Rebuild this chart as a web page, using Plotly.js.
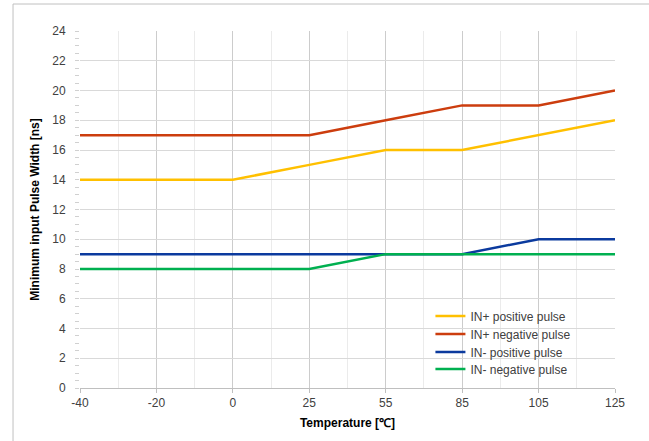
<!DOCTYPE html>
<html>
<head>
<meta charset="utf-8">
<script src="https://cdn.plot.ly/plotly-3.0.1.min.js"></script>
<style>html,body{margin:0;padding:0;background:#fff;}#chart{width:649px;height:441px;}</style>
</head>
<body>
<div id="chart"></div>
<script>
const categories = ["-40", "-20", "0", "25", "55", "85", "105", "125"];
const seriesNames = ["IN+ positive pulse", "IN+ negative pulse", "IN- positive pulse", "IN- negative pulse"];
const inPlusPositive = [14, 14, 14, 15, 16, 16, 17, 18];
const inPlusNegative = [17, 17, 17, 17, 18, 19, 19, 20];
const inMinusPositive = [9, 9, 9, 9, 9, 9, 10, 10];
const inMinusNegative = [8, 8, 8, 8, 9, 9, 9, 9];
const seriesColors = ["#FFC000", "#CC3D0E", "#0B3A9E", "#00B050"];
const yTicks = [0, 2, 4, 6, 8, 10, 12, 14, 16, 18, 20, 22, 24];

const xIdx = categories.map((c, i) => i);
const allSeries = [inPlusPositive, inPlusNegative, inMinusPositive, inMinusNegative];
const legendIds = ['legend', 'legend2', 'legend3', 'legend4'];
const traces = allSeries.map((vals, k) => ({
  x: xIdx, y: vals, name: seriesNames[k], type: 'scatter', mode: 'lines',
  line: {color: seriesColors[k], width: 2.5}, legend: legendIds[k]
}));

const font = {family: 'Liberation Sans, Arial, sans-serif', size: 12, color: '#404040'};
const legendY = [0.2017, 0.1513, 0.1008, 0.0532];
const mkLegend = (y) => ({x: 0.655, y: y, xanchor: 'left', yanchor: 'middle', bgcolor: 'rgba(255,255,255,0)', borderwidth: 0, font: {family: font.family, size: 12, color: '#404040'}});

const layout = {
  width: 649, height: 441,
  margin: {l: 80, r: 34, t: 31, b: 53},
  paper_bgcolor: '#fff', plot_bgcolor: '#fff',
  font: font,
  showlegend: true,
  legend: mkLegend(legendY[0]),
  legend2: mkLegend(legendY[1]),
  legend3: mkLegend(legendY[2]),
  legend4: mkLegend(legendY[3]),
  xaxis: {
    range: [0, 7], tickvals: xIdx, ticktext: categories,
    showgrid: true, gridcolor: '#cccccc', gridwidth: 1,
    zeroline: false, showline: true, linecolor: '#bfbfbf', linewidth: 1,
    ticks: 'outside', ticklen: 4, tickcolor: '#bfbfbf',
    minor: {dtick: 0.5, tick0: 0, showgrid: true, gridcolor: '#ebebeb', ticks: ''},
    title: {text: 'Temperature [℃]', font: {family: font.family, size: 12, color: '#000', weight: 'bold'}, standoff: 9},
    fixedrange: true
  },
  yaxis: {
    range: [0, 24], tickvals: yTicks,
    showgrid: true, gridcolor: '#d9d9d9', gridwidth: 1,
    zeroline: false, showline: false,
    ticks: 'outside', ticklen: 4, tickcolor: '#d0d0d0', ticklabelstandoff: 7,
    minor: {dtick: 0.5, tick0: 0, ticks: 'outside', ticklen: 4, tickcolor: '#d0d0d0', showgrid: false},
    title: {text: 'Minimum input Pulse Width [ns]', font: {family: font.family, size: 12, color: '#000', weight: 'bold'}, standoff: 10},
    fixedrange: true
  },
  shapes: [
    {type: 'rect', xref: 'paper', yref: 'paper', x0: 0.613, x1: 0.9944, y0: 0.022, y1: 0.238, fillcolor: '#fff', line: {width: 0}, layer: 'between'},
    {type: 'path', xref: 'paper', yref: 'paper', path: 'M -0.1252 -0.2 L -0.1252 1.0756 L 1.2 1.0756', line: {color: '#c0c0c0', width: 1}, layer: 'above'}
  ]
};
Plotly.newPlot('chart', traces, layout, {displayModeBar: false, staticPlot: true});
</script>
</body>
</html>
